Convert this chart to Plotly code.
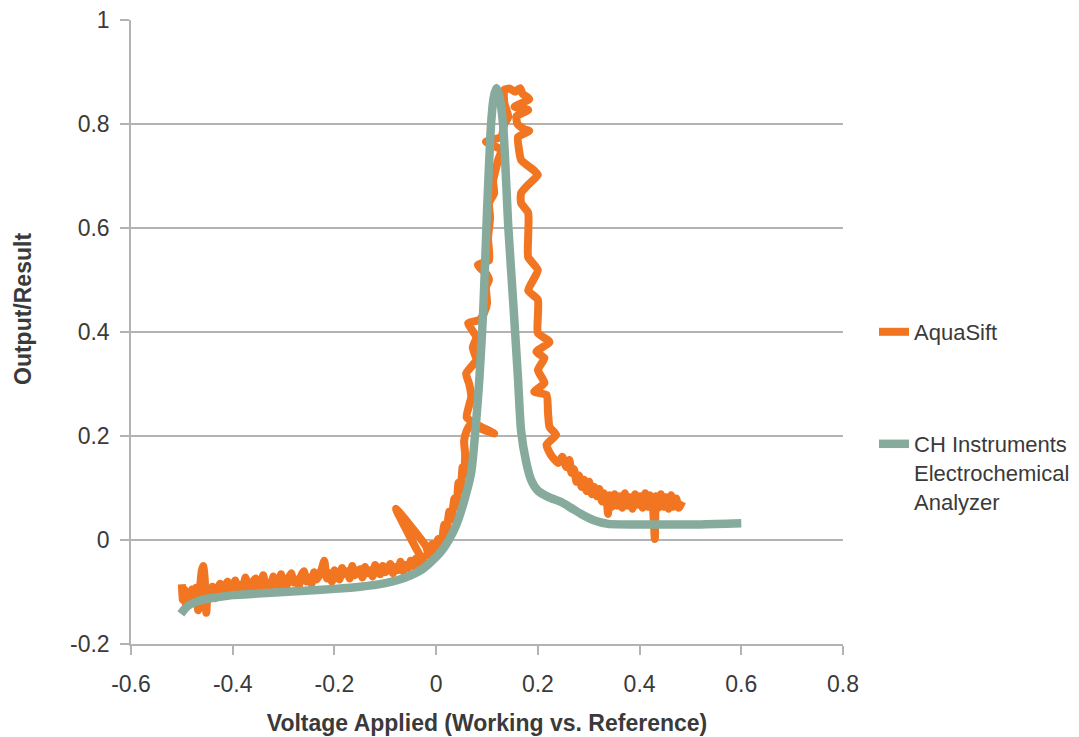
import plotly.graph_objects as go

# ---------------- data ----------------
aqua_x = [
    -0.500, -0.498, -0.495, -0.492, -0.488, -0.485, -0.480, -0.476, -0.472, -0.468,
    -0.465, -0.461, -0.458, -0.455, -0.452, -0.449,
    -0.445, -0.440, -0.435, -0.430, -0.425, -0.420, -0.415, -0.410, -0.405, -0.400,
    -0.395, -0.390, -0.385, -0.380, -0.375, -0.370, -0.365, -0.360, -0.355, -0.350,
    -0.345, -0.340, -0.335, -0.330, -0.325, -0.320, -0.315, -0.310, -0.305, -0.300,
    -0.295, -0.290, -0.285, -0.280, -0.275, -0.270, -0.265, -0.260, -0.255, -0.250,
    -0.245, -0.240, -0.235, -0.230, -0.225, -0.220, -0.215, -0.210, -0.205, -0.200,
    -0.195, -0.190, -0.185, -0.180, -0.175, -0.170, -0.165, -0.160, -0.155, -0.150,
    -0.145, -0.140, -0.135, -0.130, -0.125, -0.120, -0.115, -0.110, -0.105, -0.100,
    -0.095, -0.090, -0.085, -0.080, -0.075, -0.070, -0.065, -0.060, -0.055, -0.050,
    -0.045, -0.040, -0.035, -0.030, -0.025, -0.079,
    -0.020, -0.014, -0.008, -0.002, 0.004, 0.010,
    0.016, 0.020, 0.026, 0.030, 0.036, 0.040, 0.044, 0.048, 0.052, 0.055,
    0.057, 0.055, 0.060, 0.068, 0.079, 0.114, 0.080, 0.060, 0.069, 0.065,
    0.059, 0.079, 0.072, 0.079, 0.063, 0.085, 0.094, 0.100, 0.098, 0.104,
    0.100, 0.082, 0.104, 0.102, 0.106, 0.104, 0.114, 0.112, 0.122, 0.128,
    0.098, 0.128, 0.134, 0.142, 0.134, 0.134, 0.145, 0.155, 0.165, 0.170,
    0.183, 0.154, 0.181, 0.158, 0.160, 0.173, 0.183, 0.161, 0.163, 0.167,
    0.193, 0.200, 0.183, 0.167, 0.167, 0.181, 0.181, 0.181, 0.200, 0.181,
    0.200, 0.200, 0.200, 0.223, 0.197, 0.213, 0.200, 0.213, 0.193, 0.217,
    0.220, 0.223, 0.236, 0.217, 0.226, 0.240, 0.248, 0.256, 0.262, 0.266,
    0.271, 0.276, 0.281, 0.286, 0.291, 0.296, 0.301, 0.306, 0.311, 0.316,
    0.321, 0.326, 0.331, 0.336, 0.338, 0.341, 0.346, 0.351, 0.356, 0.361,
    0.366, 0.371, 0.376, 0.381, 0.386, 0.391, 0.396, 0.401, 0.406, 0.411,
    0.416, 0.421, 0.426, 0.430, 0.432, 0.437, 0.442, 0.447, 0.452, 0.457,
    0.462, 0.467, 0.472, 0.477, 0.484,
]
aqua_y = [
    -0.085, -0.115, -0.095, -0.125, -0.100, -0.118, -0.095, -0.110, -0.092, -0.135,
    -0.100, -0.060, -0.050, -0.075, -0.140, -0.105,
    -0.108, -0.090, -0.112, -0.096, -0.084, -0.102, -0.088, -0.080, -0.100, -0.092,
    -0.078, -0.098, -0.086, -0.094, -0.072, -0.090, -0.100, -0.080, -0.074, -0.092,
    -0.084, -0.068, -0.090, -0.082, -0.094, -0.070, -0.078, -0.088, -0.066, -0.084,
    -0.090, -0.074, -0.064, -0.082, -0.076, -0.088, -0.068, -0.060, -0.080, -0.072,
    -0.084, -0.062, -0.076, -0.068, -0.056, -0.040, -0.074, -0.064, -0.080, -0.058,
    -0.070, -0.076, -0.054, -0.066, -0.060, -0.074, -0.050, -0.068, -0.062, -0.056,
    -0.072, -0.052, -0.064, -0.058, -0.070, -0.048, -0.060, -0.066, -0.050, -0.062,
    -0.056, -0.046, -0.064, -0.052, -0.058, -0.042, -0.060, -0.048, -0.054, -0.040,
    -0.050, -0.036, -0.046, -0.030, -0.042, 0.060,
    -0.012, -0.030, -0.008, -0.022, 0.002, -0.010,
    0.030, 0.015, 0.055, 0.040, 0.080, 0.065, 0.110, 0.095, 0.140, 0.125,
    0.165, 0.190, 0.210, 0.222, 0.217, 0.205, 0.222, 0.236, 0.275, 0.300,
    0.320, 0.346, 0.370, 0.390, 0.417, 0.423, 0.436, 0.455, 0.487, 0.500,
    0.510, 0.529, 0.538, 0.580, 0.620, 0.648, 0.667, 0.690, 0.731, 0.750,
    0.766, 0.775, 0.800, 0.814, 0.840, 0.866, 0.868, 0.862, 0.869, 0.858,
    0.848, 0.833, 0.827, 0.815, 0.800, 0.790, 0.787, 0.775, 0.750, 0.731,
    0.710, 0.702, 0.685, 0.667, 0.648, 0.629, 0.585, 0.544, 0.519, 0.480,
    0.462, 0.430, 0.398, 0.381, 0.362, 0.350, 0.327, 0.302, 0.285, 0.279,
    0.244, 0.217, 0.202, 0.183, 0.163, 0.148, 0.160, 0.140, 0.154, 0.129,
    0.136, 0.112, 0.124, 0.102, 0.116, 0.094, 0.112, 0.088, 0.102, 0.084,
    0.098, 0.074, 0.090, 0.070, 0.050, 0.086, 0.064, 0.088, 0.066, 0.084,
    0.062, 0.090, 0.066, 0.082, 0.060, 0.088, 0.068, 0.084, 0.062, 0.090,
    0.064, 0.086, 0.066, 0.002, 0.084, 0.062, 0.088, 0.064, 0.082, 0.060,
    0.086, 0.064, 0.080, 0.062, 0.074,
]

ch_x = [
    -0.502, -0.490, -0.470, -0.450, -0.430, -0.400, -0.350, -0.300, -0.250, -0.200,
    -0.150, -0.100, -0.075, -0.050, -0.030, -0.010, 0.010, 0.025, 0.040, 0.055,
    0.069, 0.078, 0.085, 0.093, 0.100, 0.108, 0.113, 0.118, 0.124, 0.132,
    0.142, 0.152, 0.161, 0.167, 0.177, 0.187, 0.200, 0.220, 0.246, 0.265,
    0.285, 0.310, 0.338, 0.400, 0.520, 0.600,
]
ch_y = [
    -0.142, -0.128, -0.118, -0.113, -0.110, -0.106, -0.103, -0.100, -0.097, -0.094,
    -0.090, -0.083, -0.077, -0.068, -0.058, -0.042, -0.022, 0.000, 0.030, 0.075,
    0.130, 0.220, 0.310, 0.450, 0.630, 0.800, 0.850, 0.869, 0.855, 0.794,
    0.600, 0.450, 0.310, 0.210, 0.150, 0.115, 0.095, 0.083, 0.073, 0.062,
    0.050, 0.038, 0.031, 0.030, 0.030, 0.032,
]

tick_vals_x = [-0.6, -0.4, -0.2, 0, 0.2, 0.4, 0.6, 0.8]
tick_text_x = ["-0.6", "-0.4", "-0.2", "0", "0.2", "0.4", "0.6", "0.8"]
tick_vals_y = [-0.2, 0, 0.2, 0.4, 0.6, 0.8, 1]
tick_text_y = ["-0.2", "0", "0.2", "0.4", "0.6", "0.8", "1"]

ORANGE = "#F27521"
TEAL = "#86AA9C"
GRID = "#B3B3B3"
TXT = "#3A3A3A"
FONT = "Liberation Sans, Arial, sans-serif"

W, H = 1071, 729  # page body has an 8px margin

fig = go.Figure()
fig.add_trace(go.Scatter(
    x=aqua_x, y=aqua_y, mode="lines", name="AquaSift", showlegend=True,
    line=dict(color=ORANGE, width=8, shape="spline", smoothing=0.5), legend="legend",
))
fig.add_trace(go.Scatter(
    x=ch_x, y=ch_y, mode="lines", showlegend=True,
    name="CH Instruments<br>Electrochemical<br>Analyzer",
    line=dict(color=TEAL, width=8.5, shape="spline", smoothing=0.6), legend="legend2",
))

axis_common = dict(
    showline=True, linecolor=GRID, linewidth=1.5,
    ticks="outside", ticklen=9, tickcolor=GRID, tickwidth=1.5,
    tickfont=dict(family=FONT, size=23, color=TXT),
    zeroline=False, automargin=False, ticklabeloverflow="allow",
)

fig.update_layout(
    width=W, height=H,
    margin=dict(l=123, r=236, t=12, b=93, autoexpand=False),
    paper_bgcolor="white", plot_bgcolor="white",
    showlegend=True,
    font=dict(family=FONT, color=TXT),
    xaxis=dict(
        range=[-0.6, 0.8], tickvals=tick_vals_x, ticktext=tick_text_x,
        showgrid=False, ticklabelstandoff=10,
        title=dict(text="<b>Voltage Applied (Working vs. Reference)</b>",
                   font=dict(family=FONT, size=23, color=TXT), standoff=19),
        **axis_common,
    ),
    yaxis=dict(
        range=[-0.2, 1], tickvals=tick_vals_y, ticktext=tick_text_y,
        showgrid=True, gridcolor=GRID, gridwidth=1.5, ticklabelstandoff=6,
        **axis_common,
    ),
    legend=dict(
        xref="container", yref="container",
        x=(874 - 8) / W, xanchor="left", y=1 - (332 - 8) / H, yanchor="middle",
        font=dict(family=FONT, size=22, color=TXT), bgcolor="rgba(0,0,0,0)",
    ),
    legend2=dict(
        xref="container", yref="container",
        x=(874 - 8) / W, xanchor="left", y=1 - (423 - 8) / H, yanchor="top",
        valign="top",
        font=dict(family=FONT, size=22, color=TXT), bgcolor="rgba(0,0,0,0)",
    ),
    annotations=[dict(
        text="<b>Output/Result</b>", textangle=-90,
        xref="paper", yref="paper", x=-(131 - 23) / 712, y=(644 - 309) / 624,
        xanchor="center", yanchor="middle", showarrow=False,
        font=dict(family=FONT, size=23, color=TXT),
    )],
)

fig.write_html("out.html")
